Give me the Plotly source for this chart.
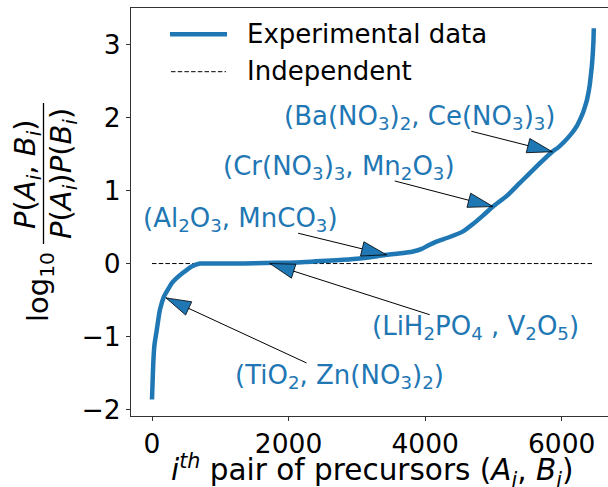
import plotly.graph_objects as go
import math

# ---------------- data ----------------
pair_index = [0, 5, 10, 19, 35, 68, 117, 176, 230, 288, 360, 449, 581, 700, 900, 1200,
              1500, 1800, 2100, 2400, 2700, 3000, 3200, 3434, 3650, 3823, 3950, 4050, 4165,
              4350, 4555, 4700, 4850, 4994, 5200, 5384, 5600, 5862, 5950, 6030, 6100, 6170,
              6220, 6268, 6310, 6342, 6370, 6390, 6410, 6425, 6440, 6450, 6458, 6465, 6470]
log_ratio = [-1.86, -1.72, -1.59, -1.36, -1.12, -0.92, -0.63, -0.45, -0.36, -0.27, -0.20,
             -0.13, -0.04, 0.0, 0.0, 0.0, 0.005, 0.01, 0.015, 0.03, 0.045, 0.065, 0.085,
             0.12, 0.14, 0.165, 0.20, 0.25, 0.30, 0.36, 0.44, 0.54, 0.66, 0.78, 0.93, 1.10,
             1.30, 1.53, 1.59, 1.66, 1.73, 1.81, 1.88, 1.97, 2.06, 2.15, 2.24, 2.33, 2.44,
             2.56, 2.69, 2.80, 2.92, 3.05, 3.22]
independent_level = [0.0, 0.0]

labels = ["(Ba(NO<sub>3</sub>)<sub>2</sub>, Ce(NO<sub>3</sub>)<sub>3</sub>)",
          "(Cr(NO<sub>3</sub>)<sub>3</sub>, Mn<sub>2</sub>O<sub>3</sub>)",
          "(Al<sub>2</sub>O<sub>3</sub>, MnCO<sub>3</sub>)",
          "(LiH<sub>2</sub>PO<sub>4</sub> , V<sub>2</sub>O<sub>5</sub>)",
          "(TiO<sub>2</sub>, Zn(NO<sub>3</sub>)<sub>2</sub>)"]
label_tip_x = [5862, 4994, 3434, 1726, 205]
label_tip_y = [1.53, 0.78, 0.12, 0.0, -0.47]
label_text_x = [3921, 2736, 1295, 4740, 2750]
label_text_y = [2.0, 1.32, 0.60, -0.88, -1.54]
label_tail_x = [4677, 3555, 2140, 4067, 2263]
label_tail_y = [1.81, 1.13, 0.415, -0.70, -1.36]

x_ticks = [0, 2000, 4000, 6000]
y_ticks = [-2, -1, 0, 1, 2, 3]

BLUE = "#1f77b4"
FONT = "DejaVu Sans"

# ---------------- layout geometry ----------------
W, H = 608, 487
L, R, T, B = 131, 608, 8, 416
XR = [-307.5, 6678]
YR = [-2.086, 3.497]
sx = (R - L) / (XR[1] - XR[0])
sy = (B - T) / (YR[1] - YR[0])


def pxp(x):
    return (x - L) / (R - L)


def pyp(y):
    return (B - y) / (B - T)


fig = go.Figure()
fig.add_trace(go.Scatter(x=[min(pair_index), max(pair_index)], y=independent_level,
                         mode="lines", line=dict(color="black", width=1, dash="4.5px,2.2px"),
                         name="Independent", showlegend=False, hoverinfo="skip"))
fig.add_trace(go.Scatter(x=pair_index, y=log_ratio, mode="lines",
                         line=dict(color=BLUE, width=4.5, shape="spline", smoothing=0.6),
                         name="Experimental data", showlegend=False))

shapes = []
annotations = []

# annotation arrows
HL, HW = 25, 7.3
for lab, tx, ty, xt, yt, ax, ay in zip(labels, label_tip_x, label_tip_y, label_text_x,
                                       label_text_y, label_tail_x, label_tail_y):
    shapes.append(dict(type="line", xref="x", yref="y", x0=ax, y0=ay, x1=tx, y1=ty,
                       line=dict(color="black", width=1)))
    dx = (ax - tx) * sx
    dy = (ay - ty) * sy
    n = math.hypot(dx, dy)
    ux, uy = dx / n, dy / n
    bx, by = ux * HL, uy * HL
    c1 = (bx - uy * HW, by + ux * HW)
    c2 = (bx + uy * HW, by - ux * HW)
    path = "M0,0 L%.2f,%.2f L%.2f,%.2f Z" % (c1[0], c1[1], c2[0], c2[1])
    shapes.append(dict(type="path", xref="x", yref="y", xsizemode="pixel", ysizemode="pixel",
                       xanchor=tx, yanchor=ty, path=path, fillcolor=BLUE,
                       line=dict(color="black", width=0.8)))
    annotations.append(dict(x=xt, y=yt, xref="x", yref="y", text=lab, showarrow=False,
                            xanchor="center", yanchor="middle",
                            font=dict(family=FONT, size=26, color=BLUE)))

# manual legend
shapes.append(dict(type="line", xref="paper", yref="paper", x0=pxp(170), x1=pxp(227),
                   y0=pyp(34.3), y1=pyp(34.3), line=dict(color=BLUE, width=4.5)))
shapes.append(dict(type="line", xref="paper", yref="paper", x0=pxp(171), x1=pxp(226),
                   y0=pyp(71.7), y1=pyp(71.7), line=dict(color="black", width=1, dash="4.5px,2.2px")))
annotations.append(dict(x=pxp(245), y=pyp(34), xref="paper", yref="paper",
                        text="Experimental data", showarrow=False, xanchor="left",
                        yanchor="middle", font=dict(family=FONT, size=26, color="black")))
annotations.append(dict(x=pxp(245), y=pyp(71), xref="paper", yref="paper",
                        text="Independent", showarrow=False, xanchor="left",
                        yanchor="middle", font=dict(family=FONT, size=26, color="black")))

# axis titles
annotations.append(dict(x=pxp(372), y=pyp(470), xref="paper", yref="paper",
                        text="<i>i</i><sup><i>th</i></sup> pair of precursors (<i>A<sub>i</sub></i>, <i>B<sub>i</sub></i>)",
                        showarrow=False, xanchor="center", yanchor="middle",
                        font=dict(family=FONT, size=29.5, color="black")))
annotations.append(dict(x=pxp(40), y=pyp(287), xref="paper", yref="paper",
                        text="log<sub>10</sub>", textangle=-90, showarrow=False,
                        xanchor="center", yanchor="middle",
                        font=dict(family=FONT, size=29, color="black")))
annotations.append(dict(x=pxp(27), y=pyp(174), xref="paper", yref="paper",
                        text="<i>P</i>(<i>A<sub>i</sub></i>, <i>B<sub>i</sub></i>)", textangle=-90,
                        showarrow=False, xanchor="center", yanchor="middle",
                        font=dict(family=FONT, size=29, color="black")))
annotations.append(dict(x=pxp(63), y=pyp(174), xref="paper", yref="paper",
                        text="<i>P</i>(<i>A<sub>i</sub></i>)<i>P</i>(<i>B<sub>i</sub></i>)", textangle=-90,
                        showarrow=False, xanchor="center", yanchor="middle",
                        font=dict(family=FONT, size=29, color="black")))
shapes.append(dict(type="line", xref="paper", yref="paper", x0=pxp(43.5), x1=pxp(43.5),
                   y0=pyp(103), y1=pyp(244), line=dict(color="black", width=1.3)))

fig.update_layout(
    width=W, height=H,
    margin=dict(l=L, r=W - R, t=T, b=H - B, pad=0),
    paper_bgcolor="white", plot_bgcolor="white",
    showlegend=False,
    shapes=shapes, annotations=annotations,
    font=dict(family=FONT, size=26, color="black"),
    xaxis=dict(range=XR, tickvals=x_ticks, ticktext=[str(v) for v in x_ticks],
               showgrid=False, zeroline=False, showline=True, mirror=True,
               linecolor="#333", linewidth=1, ticks="outside", ticklen=4, tickwidth=1,
               tickcolor="#333", tickfont=dict(family=FONT, size=26.5, color="black")),
    yaxis=dict(range=YR, tickvals=y_ticks, ticktext=[("\u2212%d" % -v) if v < 0 else str(v) for v in y_ticks],
               showgrid=False, zeroline=False, showline=True, mirror=False,
               linecolor="#333", linewidth=1, ticks="outside", ticklen=4, tickwidth=1,
               tickcolor="#333", tickfont=dict(family=FONT, size=26.5, color="black")),
)

fig.write_html("out.html")
